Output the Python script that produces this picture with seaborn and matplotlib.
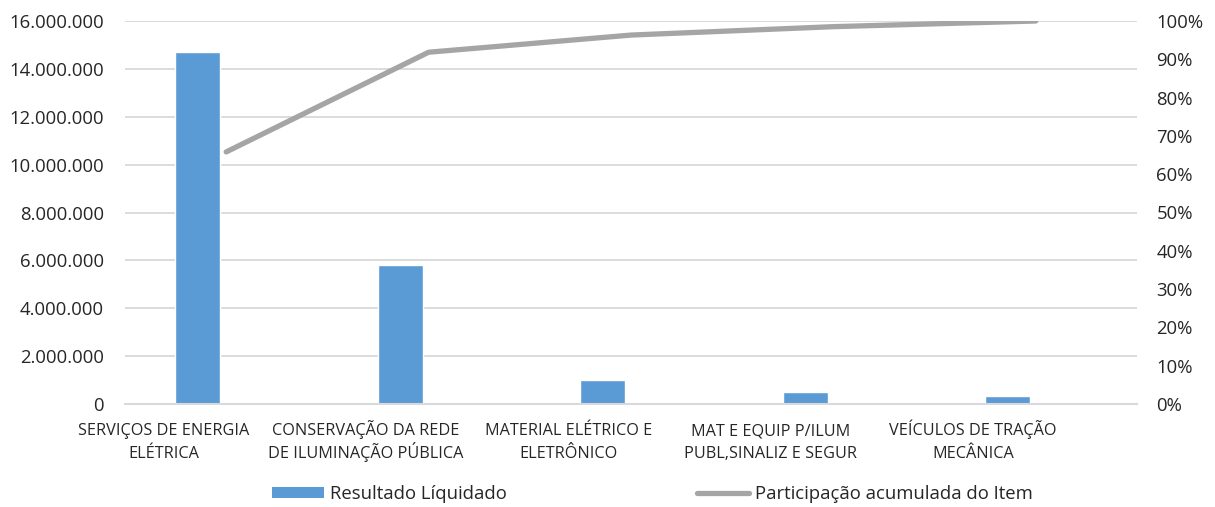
import numpy as np
import pandas as pd
import matplotlib
matplotlib.use("Agg")
import matplotlib.pyplot as plt
from matplotlib.ticker import FuncFormatter, MultipleLocator
from matplotlib.patches import Patch
from matplotlib.lines import Line2D
import seaborn as sns

# Pareto data: settled amount by expense item
categorias = [
    "SERVIÇOS DE ENERGIA\nELÉTRICA",
    "CONSERVAÇÃO DA REDE\nDE ILUMINAÇÃO PÚBLICA",
    "MATERIAL ELÉTRICO E\nELETRÔNICO",
    "MAT E EQUIP P/ILUM\nPUBL,SINALIZ E SEGUR",
    "VEÍCULOS DE TRAÇÃO\nMECÂNICA",
]
resultado_liquidado = [14_690_000, 5_810_000, 1_000_000, 490_000, 330_000]

serie_barras = "Resultado Líquidado"
serie_linha = "Participação acumulada do Item"

BAR_COLOR = "#5B9BD5"
LINE_COLOR = "#A5A5A5"
GRID_COLOR = "#D9D9D9"
TEXT_COLOR = "#262626"
FONT = ["Open Sans", "DejaVu Sans"]

sns.set_theme(style="white")
plt.rcParams["font.family"] = FONT

valores = np.array(resultado_liquidado, dtype=float)
acumulado = np.cumsum(valores) / valores.sum()
pos = np.arange(len(categorias))

df = pd.DataFrame({
    "pos_barra": pos - 0.14,
    "pos_linha": pos,
    "valor": valores,
    "acumulado": acumulado,
})

W, H = 1215, 507
fig = plt.figure(figsize=(W / 100, H / 100), dpi=100)
ax_bottom, ax_top = 404, 21
ax = fig.add_axes([125 / W, 1 - ax_bottom / H, (1137 - 125) / W, (ax_bottom - ax_top) / H])

sns.barplot(data=df, x="pos_barra", y="valor", native_scale=True, width=0.222,
            color=BAR_COLOR, saturation=1, ax=ax, zorder=2)
ax.set_xlim(-0.5, 4.5)
ax.set_ylim(0, 16_000_000)
ax.yaxis.set_major_locator(MultipleLocator(2_000_000))
ax.yaxis.set_major_formatter(FuncFormatter(lambda v, _: f"{int(v):,}".replace(",", ".")))
ax.grid(axis="y", color=GRID_COLOR, linewidth=1.3, zorder=0)
ax.grid(axis="x", visible=False)
ax.set_axisbelow(True)
ax.set_xlabel("")
ax.set_ylabel("")
ax.set_xticks([])
ax.tick_params(axis="y", length=0, pad=15, labelsize=13.3, labelcolor=TEXT_COLOR)

# two-line category labels, one text per line so every baseline lines up
axes_h = ax_bottom - ax_top
base1 = (ax_bottom - 435) / axes_h
base2 = (ax_bottom - 458) / axes_h
xform = ax.get_xaxis_transform()
for p, nome in zip(pos, categorias):
    linhas = nome.split("\n")
    for txt, yb in zip(linhas, (base1, base2)):
        ax.text(p - 0.31, yb, txt, transform=xform, ha="center", va="baseline",
                fontsize=11.7, color=TEXT_COLOR, clip_on=False)

for s in ["top", "left", "right"]:
    ax.spines[s].set_visible(False)
ax.spines["bottom"].set_color(GRID_COLOR)
ax.spines["bottom"].set_linewidth(1.5)

ax2 = ax.twinx()
sns.lineplot(data=df, x="pos_linha", y="acumulado", color=LINE_COLOR, linewidth=3.8,
             solid_capstyle="round", ax=ax2, zorder=3)
ax2.set_ylim(0, 1)
ax2.set_xlim(-0.5, 4.5)
ax2.yaxis.set_major_locator(MultipleLocator(0.1))
ax2.yaxis.set_major_formatter(FuncFormatter(lambda v, _: f"{v * 100:.0f}%"))
ax2.tick_params(axis="y", length=0, pad=14, labelsize=13.3, labelcolor=TEXT_COLOR)
ax2.set_ylabel("")
ax2.grid(False)
for s in ax2.spines.values():
    s.set_visible(False)

handles = [
    Patch(facecolor=BAR_COLOR, edgecolor="none"),
    Line2D([0], [0], color=LINE_COLOR, linewidth=3.8, solid_capstyle="round"),
]
fig.legend(handles, [serie_barras, serie_linha], loc="center",
           bbox_to_anchor=(0.537, 1 - 494 / H), ncol=2, frameon=False,
           fontsize=13.3, handlelength=2.81, handleheight=0.6, handletextpad=0.32,
           columnspacing=10.3, labelcolor=TEXT_COLOR)

fig.savefig("out.png", dpi=100)
